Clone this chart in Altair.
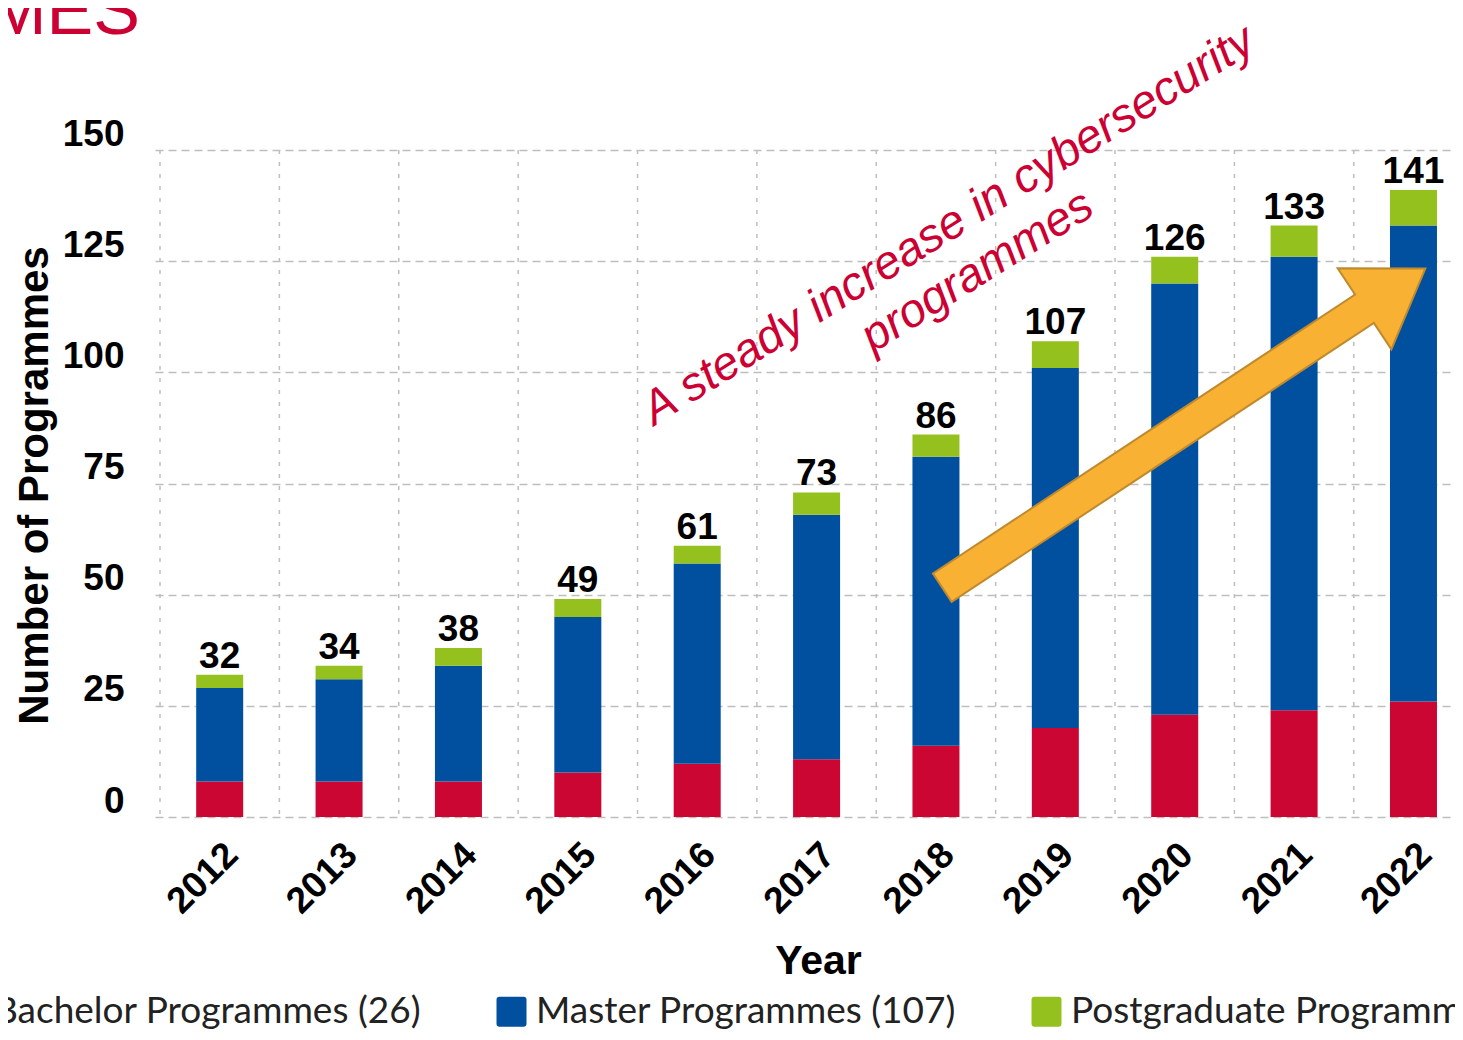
import altair as alt
import pandas as pd

# ---------------- data ----------------
years = [2012, 2013, 2014, 2015, 2016, 2017, 2018, 2019, 2020, 2021, 2022]
bachelor = [8, 8, 8, 10, 12, 13, 16, 20, 23, 24, 26]
master = [21, 23, 26, 35, 45, 55, 65, 81, 97, 102, 107]
postgrad = [3, 3, 4, 4, 4, 5, 5, 6, 6, 7, 8]
totals = [32, 34, 38, 49, 61, 73, 86, 107, 126, 133, 141]

series_names = ["Bachelor Programmes (26)", "Master Programmes (107)", "Postgraduate Programmes (8)"]
series_colors = ["#CC0633", "#00509F", "#95C11F"]
y_ticks = [0, 25, 50, 75, 100, 125, 150]

heading = ["PROGRAMMES"]
annot_lines = ["A steady increase in cybersecurity", "programmes"]
annot_pos = [2018.17, 130.3]

# arrow (data coordinates: year units, number of programmes)
arrow_tail = [2018.06, 51.7]
arrow_tail_outline = [2018.046, 51.45]
arrow_back = [2021.59, 114.3]
arrow_back_fill = [2021.61, 114.67]

# ---------------- frames ----------------
rows = []
for i, yr in enumerate(years):
    for k, (name, vals) in enumerate(zip(series_names, [bachelor, master, postgrad])):
        rows.append({"year": yr, "series": name, "count": vals[i], "rank": k})
df = pd.DataFrame(rows)
df_tot = pd.DataFrame({"year": years, "total": totals})
df_grid = pd.DataFrame({"edge": [yr - 0.5 for yr in years]})

FONT = "Liberation Sans"
GRID = "#BEBEBE"
xscale = alt.Scale(domain=[2011.5, 2022.306], nice=False, zero=False)
yscale = alt.Scale(domain=[0, 150], nice=False)

rounded_square = "M-1,-0.8Q-1,-1,-0.8,-1L0.8,-1Q1,-1,1,-0.8L1,0.8Q1,1,0.8,1L-0.8,1Q-1,1,-1,0.8Z"

vgrid = alt.Chart(df_grid).mark_rule(color=GRID, strokeWidth=1.5, strokeDash=[4, 8]).encode(
    x=alt.X("edge:Q", scale=xscale)
)

bars = alt.Chart(df).mark_bar(size=47).encode(
    x=alt.X("year:Q", scale=xscale,
            axis=alt.Axis(values=years, format="d", labelAngle=315, labelAlign="right",
                          labelBaseline="middle", labelFont=FONT, labelFontWeight="bold",
                          labelFontSize=37, labelColor="#000000", labelPadding=32, labelOffset=12,
                          ticks=False, domain=False, grid=False, labelFlush=False,
                          labelOverlap=False, labelBound=False,
                          title="Year", titleFont=FONT, titleFontSize=41, titleFontWeight="bold",
                          titleColor="#000000", titleX=663, titleY=156, titleAlign="center",
                          titleBaseline="alphabetic", titleAnchor="start")),
    y=alt.Y("count:Q", stack="zero", scale=yscale,
            axis=alt.Axis(values=y_ticks, grid=True, gridDash=[8, 5], gridColor=GRID, gridWidth=1.5,
                          domain=False, ticks=False, labelPadding=31, labelOffset=-16,
                          labelFont=FONT, labelFontWeight="bold", labelFontSize=37,
                          labelColor="#000000", labelBound=False, labelFlush=False,
                          title="Number of Programmes", titleFont=FONT, titleFontSize=42,
                          titleFontWeight="bold", titleColor="#000000", titleAngle=270,
                          titleX=-108, titleY=335, titleAlign="center",
                          titleBaseline="alphabetic", titleAnchor="start")),
    color=alt.Color("series:N", scale=alt.Scale(domain=series_names, range=series_colors),
                    legend=alt.Legend(orient="none", legendX=-204, legendY=843,
                                      direction="horizontal", title=None,
                                      symbolType=rounded_square, symbolSize=900,
                                      symbolStrokeWidth=0, symbolOpacity=1,
                                      labelFont="Lato", labelFontSize=37, labelColor="#222222",
                                      labelOffset=6, columnPadding=71, labelLimit=2000,
                                      padding=0)),
    order=alt.Order("rank:Q", sort="ascending"),
)

labels = alt.Chart(df_tot).mark_text(dy=-7, baseline="alphabetic", align="center", font=FONT,
                                     fontWeight="bold", fontSize=37, color="#000000").encode(
    x=alt.X("year:Q", scale=xscale),
    y=alt.Y("total:Q", scale=yscale),
    text=alt.Text("total:Q"),
)

df_shaft_out = pd.DataFrame({"x": [arrow_tail_outline[0]], "y": [arrow_tail_outline[1]],
                             "x2": [arrow_back[0]], "y2": [arrow_back[1]]})
df_shaft_in = pd.DataFrame({"x": [arrow_tail[0]], "y": [arrow_tail[1]],
                            "x2": [arrow_back_fill[0]], "y2": [arrow_back_fill[1]]})
df_head = pd.DataFrame({"x": [arrow_back[0]], "y": [arrow_back[1]]})

ARROW_FILL = "#F8B133"
ARROW_EDGE = "#BF8A2E"

shaft_out = alt.Chart(df_shaft_out).mark_rule(color=ARROW_EDGE, strokeWidth=36, strokeCap="butt").encode(
    x=alt.X("x:Q", scale=xscale), y=alt.Y("y:Q", scale=yscale),
    x2="x2:Q", y2="y2:Q")
head = alt.Chart(df_head).mark_point(shape="M0,-1L0.666,0L-0.666,0Z", size=21316, angle=56.5,
                                     filled=True, fill=ARROW_FILL, stroke=ARROW_EDGE,
                                     strokeWidth=2, opacity=1).encode(
    x=alt.X("x:Q", scale=xscale), y=alt.Y("y:Q", scale=yscale))
shaft_in = alt.Chart(df_shaft_in).mark_rule(color=ARROW_FILL, strokeWidth=32, strokeCap="butt").encode(
    x=alt.X("x:Q", scale=xscale), y=alt.Y("y:Q", scale=yscale),
    x2="x2:Q", y2="y2:Q")

annot = alt.Chart(alt.Data(values=[{"x": annot_pos[0], "y": annot_pos[1], "txt": annot_lines}])).mark_text(
    angle=328, align="center", baseline="alphabetic", font=FONT, fontStyle="italic",
    fontSize=47, lineHeight=54, color="#CC0033").encode(
    x=alt.X("x:Q", scale=xscale),
    y=alt.Y("y:Q", scale=yscale),
    text="txt:N")

head_text = alt.Chart(pd.DataFrame({"t": heading})).mark_text(
    align="right", baseline="alphabetic", font=FONT, fontSize=70, color="#CC0033").encode(
    x=alt.value(-15), y=alt.value(-116), text="t:N")

chart = alt.layer(vgrid, bars, labels, shaft_out, head, shaft_in, annot, head_text).properties(
    width=1300, height=667,
    padding={"left": 147, "top": 142, "right": 0, "bottom": 215},
    autosize=alt.AutoSizeParams(type="none"),
).configure(background="white").configure_view(strokeWidth=0)

chart.save("out.html", embed_options={"renderer": "svg", "actions": False})
